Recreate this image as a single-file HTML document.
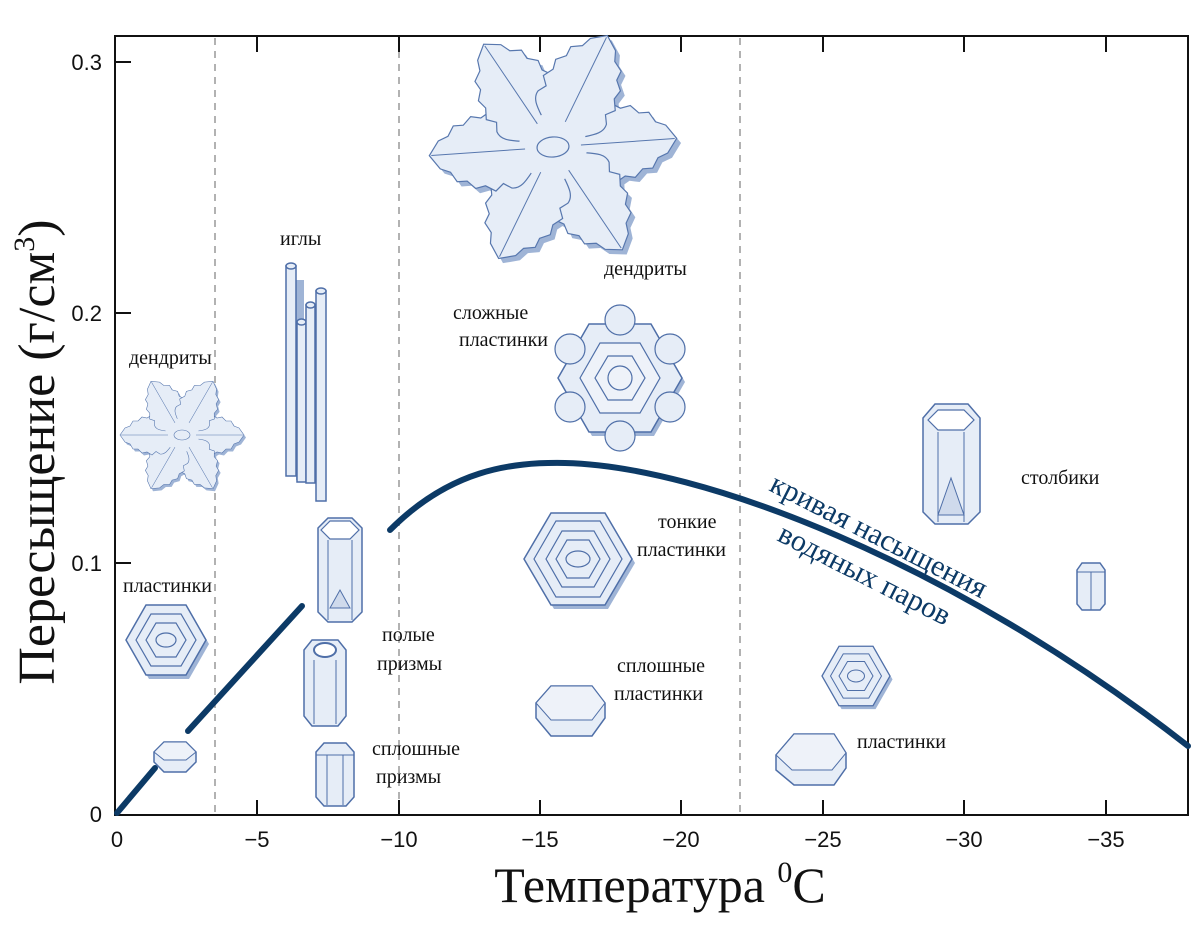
<!DOCTYPE html>
<html><head><meta charset="utf-8"><style>
html,body{margin:0;padding:0;background:#fff}
svg{display:block}
.t{font-family:"Liberation Serif",serif;fill:#111}
.s{font-family:"Liberation Sans",sans-serif;fill:#111}
.c{fill:#e6edf7;stroke:#4f6fa8;stroke-width:1.5}
</style></head><body>
<svg width="1200" height="930" viewBox="0 0 1200 930" xmlns="http://www.w3.org/2000/svg">
<defs>
 <g id="arm">
  <path d="M20,-20 C28,-30 34,-40 44,-38 L52,-33 L60,-40 L70,-34 L80,-36 L88,-28 L98,-28 L104,-18 L114,-14 L124,0 L114,14 L104,18 L98,28 L88,28 L80,36 L70,34 L60,40 L52,33 L44,38 C34,40 28,30 20,20 Z"/>
 </g>
 <g id="flake">
  <g fill="#9fb4d6" transform="translate(4,5)">
   <use href="#arm"/><use href="#arm" transform="rotate(60)"/><use href="#arm" transform="rotate(120)"/><use href="#arm" transform="rotate(180)"/><use href="#arm" transform="rotate(240)"/><use href="#arm" transform="rotate(300)"/>
   <circle r="34"/>
  </g>
  <g fill="#e6edf7" stroke="#5777ae" stroke-width="1.2">
   <use href="#arm"/><use href="#arm" transform="rotate(60)"/><use href="#arm" transform="rotate(120)"/><use href="#arm" transform="rotate(180)"/><use href="#arm" transform="rotate(240)"/><use href="#arm" transform="rotate(300)"/>
  </g>
  <circle r="34" fill="#e6edf7"/>
  <g stroke="#5777ae" stroke-width="1">
   <line x1="28" y1="0" x2="122" y2="0"/><line x1="28" y1="0" x2="122" y2="0" transform="rotate(60)"/><line x1="28" y1="0" x2="122" y2="0" transform="rotate(120)"/><line x1="28" y1="0" x2="122" y2="0" transform="rotate(180)"/><line x1="28" y1="0" x2="122" y2="0" transform="rotate(240)"/><line x1="28" y1="0" x2="122" y2="0" transform="rotate(300)"/>
  </g>
  <ellipse rx="16" ry="10" fill="#e6edf7" stroke="#5777ae" stroke-width="1.2"/>
 </g>
 <g id="hexp">
  <polygon points="-40,0 -20,-35 20,-35 40,0 20,35 -20,35" fill="#9fb4d6" transform="translate(3,4)"/>
  <polygon points="-40,0 -20,-35 20,-35 40,0 20,35 -20,35" class="c"/>
  <polygon points="-30,0 -15,-26 15,-26 30,0 15,26 -15,26" fill="none" stroke="#4f6fa8" stroke-width="1.2"/>
  <polygon points="-20,0 -10,-17 10,-17 20,0 10,17 -10,17" fill="none" stroke="#4f6fa8" stroke-width="1.2"/>
  <ellipse rx="10" ry="7" fill="none" stroke="#4f6fa8" stroke-width="1.2"/>
 </g>
</defs>

<rect x="115" y="36" width="1073" height="779" fill="none" stroke="#111" stroke-width="2"/>
<g stroke="#999" stroke-width="1.5" stroke-dasharray="7,6">
 <line x1="215" y1="38" x2="215" y2="813"/>
 <line x1="399" y1="38" x2="399" y2="813"/>
 <line x1="740" y1="38" x2="740" y2="813"/>
</g>
<g stroke="#111" stroke-width="2">
 <line x1="257" y1="815" x2="257" y2="800"/><line x1="399" y1="815" x2="399" y2="800"/><line x1="540" y1="815" x2="540" y2="800"/><line x1="681" y1="815" x2="681" y2="800"/><line x1="823" y1="815" x2="823" y2="800"/><line x1="964" y1="815" x2="964" y2="800"/><line x1="1106" y1="815" x2="1106" y2="800"/>
 <line x1="257" y1="36" x2="257" y2="52"/><line x1="399" y1="36" x2="399" y2="52"/><line x1="540" y1="36" x2="540" y2="52"/><line x1="681" y1="36" x2="681" y2="52"/><line x1="823" y1="36" x2="823" y2="52"/><line x1="964" y1="36" x2="964" y2="52"/><line x1="1106" y1="36" x2="1106" y2="52"/>
 <line x1="115" y1="62" x2="131" y2="62"/><line x1="115" y1="313" x2="131" y2="313"/><line x1="115" y1="563" x2="131" y2="563"/>
</g>
<g class="s" font-size="22" text-anchor="middle">
 <text x="117" y="847">0</text><text x="257" y="847">−5</text><text x="399" y="847">−10</text><text x="540" y="847">−15</text><text x="681" y="847">−20</text><text x="823" y="847">−25</text><text x="964" y="847">−30</text><text x="1106" y="847">−35</text>
</g>
<g class="s" font-size="22" text-anchor="end">
 <text x="102" y="70">0.3</text><text x="102" y="321">0.2</text><text x="102" y="571">0.1</text><text x="102" y="822">0</text>
</g>
<text class="t" font-size="52" text-anchor="middle" transform="translate(54,452) rotate(-90)">Пересыщение (г/см<tspan font-size="30" dy="-20">3</tspan><tspan dy="20">)</tspan></text>
<text class="t" font-size="50" x="660" y="902" text-anchor="middle">Температура <tspan font-size="30" dy="-20">0</tspan><tspan dy="20">C</tspan></text>

<g stroke="#0c3a66" stroke-width="6" fill="none" stroke-linecap="round">
 <path d="M117,813 L155,768"/>
 <path d="M188,731 L302,606"/>
 <path d="M390,530 C450,470 510,462 565,463 C700,466 950,560 1188,746"/>
</g>
<text font-family="Liberation Serif,serif" font-size="30" fill="#0c3a66" transform="translate(768,490) rotate(27)">кривая насыщения</text>
<text font-family="Liberation Serif,serif" font-size="30" fill="#0c3a66" transform="translate(776,540) rotate(27)">водяных паров</text>

<g class="t" font-size="20">
 <text x="129" y="364">дендриты</text>
 <text x="280" y="245">иглы</text>
 <text x="604" y="275">дендриты</text>
 <text x="453" y="319">сложные</text><text x="459" y="346">пластинки</text>
 <text x="658" y="528">тонкие</text><text x="637" y="556">пластинки</text>
 <text x="1021" y="484">столбики</text>
 <text x="123" y="592">пластинки</text>
 <text x="382" y="641">полые</text><text x="377" y="670">призмы</text>
 <text x="617" y="672">сплошные</text><text x="614" y="700">пластинки</text>
 <text x="857" y="748">пластинки</text>
 <text x="372" y="755">сплошные</text><text x="376" y="783">призмы</text>
</g>

<use href="#flake" transform="translate(553,147) rotate(-4)"/>
<use href="#flake" transform="translate(182,435) scale(0.5)"/>

<g transform="translate(620,378)">
 <g fill="#9fb4d6" transform="translate(3,4)">
  <polygon points="-62,0 -31,-54 31,-54 62,0 31,54 -31,54"/>
 </g>
 <polygon points="-62,0 -31,-54 31,-54 62,0 31,54 -31,54" class="c"/>
 <g fill="#e6edf7" stroke="#4f6fa8" stroke-width="1.2">
  <circle cx="0" cy="-58" r="15"/><circle cx="50" cy="-29" r="15"/><circle cx="50" cy="29" r="15"/><circle cx="0" cy="58" r="15"/><circle cx="-50" cy="29" r="15"/><circle cx="-50" cy="-29" r="15"/>
 </g>
 <polygon points="-40,0 -20,-35 20,-35 40,0 20,35 -20,35" fill="#eef2f9" stroke="#4f6fa8" stroke-width="1.2"/>
 <polygon points="-25,0 -12,-22 12,-22 25,0 12,22 -12,22" fill="none" stroke="#4f6fa8" stroke-width="1.2"/>
 <circle r="12" fill="none" stroke="#4f6fa8" stroke-width="1.2"/>
</g>

<g>
 <rect x="296" y="280" width="8" height="200" fill="#9fb4d6"/>
 <rect x="286" y="266" width="10" height="210" class="c"/><ellipse cx="291" cy="266" rx="5" ry="3" class="c"/>
 <rect x="297" y="322" width="9" height="160" class="c"/><ellipse cx="301.5" cy="322" rx="4.5" ry="3" class="c"/>
 <rect x="306" y="305" width="9" height="178" class="c"/><ellipse cx="310.5" cy="305" rx="4.5" ry="3" class="c"/>
 <rect x="316" y="291" width="10" height="210" class="c"/><ellipse cx="321" cy="291" rx="5" ry="3" class="c"/>
</g>

<g>
 <polygon points="318,528 328,518 352,518 362,528 362,612 352,622 328,622 318,612" class="c"/>
 <polygon points="321,530 330,521 350,521 359,530 350,539 330,539" fill="#fff" stroke="#4f6fa8" stroke-width="1.2"/>
 <line x1="328" y1="540" x2="328" y2="620" stroke="#4f6fa8"/><line x1="352" y1="540" x2="352" y2="620" stroke="#4f6fa8"/>
 <path d="M330,608 L340,590 L350,608 Z" fill="#cfdaec" stroke="#4f6fa8"/>
</g>
<g>
 <polygon points="923,418 935,404 968,404 980,418 980,512 968,524 935,524 923,512" class="c"/>
 <polygon points="928,420 938,410 964,410 974,420 964,430 938,430" fill="#fff" stroke="#4f6fa8" stroke-width="1.2"/>
 <line x1="938" y1="432" x2="938" y2="522" stroke="#4f6fa8"/><line x1="964" y1="432" x2="964" y2="522" stroke="#4f6fa8"/>
 <path d="M938,515 L951,478 L964,515 Z" fill="#cfdaec" stroke="#4f6fa8"/>
</g>
<g>
 <polygon points="1077,570 1082,563 1100,563 1105,570 1105,604 1100,610 1082,610 1077,604" class="c"/>
 <line x1="1077" y1="572" x2="1105" y2="572" stroke="#4f6fa8"/><line x1="1091" y1="572" x2="1091" y2="610" stroke="#4f6fa8"/>
</g>
<g>
 <polygon points="304,650 312,640 338,640 346,650 346,716 338,726 312,726 304,716" class="c"/>
 <ellipse cx="325" cy="650" rx="11" ry="7" fill="#fff" stroke="#4f6fa8" stroke-width="2"/>
 <line x1="314" y1="660" x2="314" y2="724" stroke="#4f6fa8"/><line x1="336" y1="660" x2="336" y2="724" stroke="#4f6fa8"/>
</g>
<g>
 <polygon points="316,752 324,743 346,743 354,752 354,797 346,806 324,806 316,797" class="c"/>
 <line x1="316" y1="755" x2="354" y2="755" stroke="#4f6fa8"/><line x1="327" y1="755" x2="327" y2="805" stroke="#4f6fa8"/><line x1="343" y1="755" x2="343" y2="805" stroke="#4f6fa8"/>
</g>
<g>
 <polygon points="154,752 164,742 186,742 196,752 196,762 186,772 164,772 154,762" class="c"/>
 <polygon points="154,752 164,742 186,742 196,752 186,760 164,760" fill="#eef2f9" stroke="#4f6fa8"/>
</g>
<use href="#hexp" transform="translate(166,640)"/>
<use href="#hexp" transform="translate(856,676) scale(0.85)"/>
<g transform="translate(578,559)">
 <polygon points="-54,0 -27,-46 27,-46 54,0 27,46 -27,46" fill="#9fb4d6" transform="translate(3,4)"/>
 <polygon points="-54,0 -27,-46 27,-46 54,0 27,46 -27,46" class="c"/>
 <polygon points="-44,0 -22,-38 22,-38 44,0 22,38 -22,38" fill="none" stroke="#4f6fa8" stroke-width="1.2"/>
 <polygon points="-32,0 -16,-28 16,-28 32,0 16,28 -16,28" fill="none" stroke="#4f6fa8" stroke-width="1.2"/>
 <polygon points="-22,0 -11,-19 11,-19 22,0 11,19 -11,19" fill="none" stroke="#4f6fa8" stroke-width="1.2"/>
 <ellipse rx="12" ry="8" fill="none" stroke="#4f6fa8" stroke-width="1.2"/>
</g>
<g>
 <polygon points="536,703 551,686 592,686 605,703 605,718 592,736 551,736 536,718" class="c"/>
 <polygon points="536,703 551,686 592,686 605,703 592,720 551,720" fill="#eef2f9" stroke="#4f6fa8"/>
</g>
<g>
 <polygon points="776,755 794,734 834,734 846,753 846,768 834,785 794,785 776,770" class="c"/>
 <polygon points="776,755 794,734 834,734 846,753 832,770 792,770" fill="#eef2f9" stroke="#4f6fa8"/>
</g>
</svg>
</body></html>
